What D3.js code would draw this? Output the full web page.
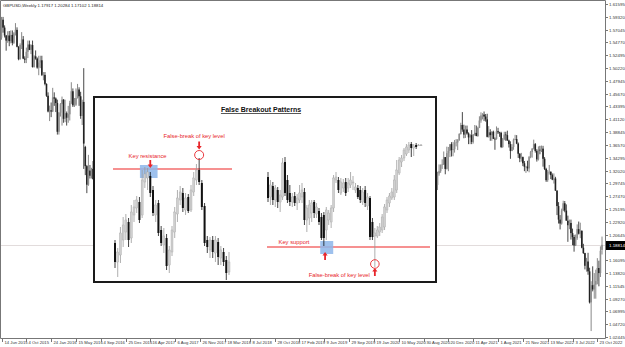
<!DOCTYPE html>
<html><head><meta charset="utf-8">
<script src="https://cdn.jsdelivr.net/npm/d3@7"></script>
<style>html,body{margin:0;padding:0;background:#fff;overflow:hidden}</style>
</head><body><svg id="c" width="625" height="347"></svg>
<script>
// ---------------- DATA ----------------
const symbolTitle = "GBPUSD,Weekly  1.17917 1.20284 1.17102 1.18814";
const lastPrice = 1.18814;
const priceTicks = [1.61595,1.59320,1.57045,1.54770,1.52495,1.50220,1.47945,1.45670,1.43395,1.41120,
  1.38845,1.36570,1.34295,1.32020,1.29745,1.27470,1.25195,1.22920,1.20645,1.18370,1.16095,1.13820,
  1.11545,1.09270,1.06995,1.04720,1.02445];
const dateLabels = ["14 Jun 2015","4 Oct 2015","24 Jan 2016","15 May 2016","4 Sep 2016","25 Dec 2016",
  "16 Apr 2017","6 Aug 2017","26 Nov 2017","18 Mar 2018","8 Jul 2018","28 Oct 2018","17 Feb 2019",
  "9 Jun 2019","29 Sep 2019","19 Jan 2020","10 May 2020","30 Aug 2020","20 Dec 2020","11 Apr 2021",
  "1 Aug 2021","21 Nov 2021","13 Mar 2022","3 Jul 2022","23 Oct 2022"];
const dateLabelWeeks = [0,16,32,48,64,80,96,112,128,144,160,176,192,208,224,240,256,272,288,304,320,336,352,368,384];
const totalWeeks = 387;

// weekly GBPUSD candles [open, high, low, close], visible part left of the inset
const earlyStartWeek = 0;
const gbpEarly = [
 [1.5560,1.5930,1.5525,1.5880],[1.5880,1.5930,1.5650,1.5740],[1.5740,1.5780,1.5565,1.5600],[1.5600,1.5610,1.5330,1.5510],
 [1.5510,1.5675,1.5470,1.5600],[1.5600,1.5680,1.5410,1.5500],[1.5500,1.5690,1.5460,1.5610],[1.5610,1.5690,1.5425,1.5470],
 [1.5470,1.5660,1.5450,1.5640],[1.5640,1.5820,1.5600,1.5700],[1.5700,1.5745,1.5390,1.5400],[1.5400,1.5410,1.5160,1.5180],
 [1.5180,1.5460,1.5170,1.5430],[1.5430,1.5660,1.5360,1.5530],[1.5530,1.5590,1.5180,1.5190],[1.5190,1.5230,1.5110,1.5170],
 [1.5170,1.5385,1.5110,1.5310],[1.5310,1.5510,1.5200,1.5440],[1.5440,1.5510,1.5340,1.5345],[1.5345,1.5445,1.5270,1.5430],
 [1.5430,1.5510,1.5030,1.5040],[1.5040,1.5250,1.5030,1.5230],[1.5230,1.5335,1.5170,1.5190],[1.5190,1.5210,1.5010,1.5030],
 [1.5030,1.5240,1.4895,1.5120],[1.5120,1.5240,1.5020,1.5160],[1.5160,1.5240,1.4880,1.4900],[1.4900,1.4950,1.4805,1.4900],
 [1.4900,1.4950,1.4715,1.4740],[1.4740,1.4750,1.4510,1.4530],[1.4530,1.4590,1.4235,1.4250],[1.4250,1.4355,1.4080,1.4270],
 [1.4270,1.4410,1.4150,1.4250],[1.4250,1.4670,1.4240,1.4500],[1.4500,1.4590,1.4350,1.4480],[1.4480,1.4500,1.4240,1.4400],
 [1.4400,1.4460,1.3840,1.3890],[1.3890,1.4240,1.3840,1.4230],[1.4230,1.4400,1.4160,1.4380],[1.4380,1.4515,1.4000,1.4460],
 [1.4460,1.4470,1.4050,1.4120],[1.4120,1.4460,1.4060,1.4220],[1.4220,1.4250,1.4000,1.4140],[1.4140,1.4350,1.4050,1.4200],
 [1.4200,1.4440,1.4090,1.4400],[1.4400,1.4770,1.4380,1.4610],[1.4610,1.4660,1.4330,1.4360],[1.4360,1.4490,1.4330,1.4370],
 [1.4370,1.4660,1.4350,1.4490],[1.4490,1.4740,1.4480,1.4640],[1.4640,1.4680,1.4350,1.4520],[1.4520,1.4600,1.4120,1.4170],
 [1.4170,1.4460,1.4010,1.4420],[1.4420,1.5020,1.3230,1.3680],[1.3620,1.3640,1.3120,1.3280],[1.3280,1.3300,1.2800,1.2950],
 [1.2950,1.3480,1.2930,1.3200],[1.3200,1.3300,1.3060,1.3110],[1.3110,1.3250,1.3060,1.3230],[1.3230,1.3370,1.3040,1.3050],
 [1.3050,1.3080,1.2880,1.2920]
];
// weekly GBPUSD candles, visible part right of the inset
const lateStartWeek = 278;
const gbpLate = [
 [1.3010,1.3080,1.2865,1.2910],[1.2910,1.3180,1.2860,1.3040],[1.3040,1.3070,1.2855,1.2945],[1.2945,1.3180,1.2855,1.3150],
 [1.3150,1.3310,1.3110,1.3190],[1.3190,1.3310,1.3160,1.3300],[1.3300,1.3400,1.3230,1.3310],[1.3310,1.3540,1.3300,1.3440],
 [1.3440,1.3440,1.3135,1.3230],[1.3230,1.3625,1.3220,1.3510],[1.3510,1.3620,1.3190,1.3550],[1.3550,1.3665,1.3440,1.3670],
 [1.3670,1.3705,1.3450,1.3565],[1.3565,1.3710,1.3455,1.3580],[1.3580,1.3745,1.3520,1.3690],[1.3690,1.3760,1.3630,1.3700],
 [1.3700,1.3760,1.3565,1.3740],[1.3740,1.3865,1.3730,1.3850],[1.3850,1.4050,1.3840,1.4010],[1.4010,1.4240,1.3890,1.3930],
 [1.3930,1.4015,1.3775,1.3840],[1.3840,1.4000,1.3780,1.3930],[1.3930,1.4000,1.3840,1.3860],[1.3860,1.3880,1.3670,1.3790],
 [1.3790,1.3850,1.3670,1.3830],[1.3830,1.3920,1.3670,1.3710],[1.3710,1.3850,1.3680,1.3840],[1.3840,1.4010,1.3820,1.3870],
 [1.3870,1.4000,1.3810,1.3815],[1.3815,1.3980,1.3800,1.3960],[1.3960,1.4165,1.3955,1.4090],[1.4090,1.4235,1.4050,1.4180],
 [1.4180,1.4220,1.4110,1.4195],[1.4195,1.4250,1.4080,1.4160],[1.4160,1.4205,1.4070,1.4110],[1.4110,1.4210,1.3790,1.3800],
 [1.3800,1.3990,1.3785,1.3880],[1.3880,1.3935,1.3730,1.3830],[1.3830,1.3900,1.3730,1.3890],[1.3890,1.3910,1.3760,1.3765],
 [1.3765,1.3790,1.3570,1.3760],[1.3760,1.3985,1.3750,1.3900],[1.3900,1.3960,1.3850,1.3880],[1.3880,1.3890,1.3800,1.3870],
 [1.3870,1.3890,1.3600,1.3620],[1.3620,1.3780,1.3605,1.3760],[1.3760,1.3890,1.3740,1.3840],[1.3840,1.3890,1.3730,1.3830],
 [1.3830,1.3910,1.3730,1.3735],[1.3735,1.3750,1.3610,1.3670],[1.3670,1.3720,1.3410,1.3550],[1.3550,1.3670,1.3545,1.3620],
 [1.3620,1.3770,1.3570,1.3750],[1.3750,1.3835,1.3740,1.3760],[1.3760,1.3830,1.3670,1.3680],[1.3680,1.3700,1.3425,1.3500],
 [1.3500,1.3510,1.3350,1.3415],[1.3415,1.3515,1.3360,1.3440],[1.3440,1.3450,1.3280,1.3330],[1.3330,1.3370,1.3190,1.3270],
 [1.3270,1.3285,1.3160,1.3270],[1.3270,1.3375,1.3190,1.3240],[1.3240,1.3460,1.3170,1.3440],[1.3440,1.3550,1.3420,1.3530],
 [1.3530,1.3600,1.3430,1.3590],[1.3590,1.3750,1.3575,1.3670],[1.3670,1.3690,1.3520,1.3550],[1.3550,1.3580,1.3360,1.3400],
 [1.3400,1.3630,1.3380,1.3570],[1.3570,1.3640,1.3490,1.3560],[1.3560,1.3645,1.3530,1.3590],[1.3590,1.3640,1.3270,1.3410],
 [1.3410,1.3440,1.3210,1.3230],[1.3230,1.3250,1.3000,1.3030],[1.3030,1.3210,1.3000,1.3180],[1.3180,1.3300,1.3130,1.3180],
 [1.3180,1.3185,1.3050,1.3120],[1.3120,1.3150,1.3030,1.3040],[1.3040,1.3150,1.2970,1.3060],[1.3060,1.3090,1.2840,1.2845],
 [1.2845,1.2850,1.2410,1.2570],[1.2570,1.2640,1.2260,1.2330],[1.2330,1.2410,1.2155,1.2260],[1.2260,1.2525,1.2240,1.2490],
 [1.2490,1.2665,1.2480,1.2620],[1.2620,1.2660,1.2460,1.2490],[1.2490,1.2600,1.2315,1.2310],[1.2310,1.2400,1.1935,1.2230],
 [1.2230,1.2330,1.2160,1.2270],[1.2270,1.2330,1.1975,1.2090],[1.2090,1.2170,1.1875,1.2020],[1.2020,1.2060,1.1760,1.1870],
 [1.1870,1.2065,1.1860,1.2000],[1.2000,1.2245,1.1970,1.2160],[1.2160,1.2295,1.2065,1.2080],[1.2080,1.2275,1.2000,1.2130],
 [1.2130,1.2140,1.1820,1.1830],[1.1830,1.1900,1.1720,1.1735],[1.1735,1.1740,1.1445,1.1510],[1.1510,1.1650,1.1405,1.1585],
 [1.1585,1.1740,1.1350,1.1410],[1.1410,1.1475,1.0840,1.0860],[1.0860,1.1235,1.0350,1.1165],[1.1165,1.1500,1.1055,1.1090],
 [1.1090,1.1380,1.0925,1.1175],[1.1175,1.1440,1.0925,1.1240],[1.1240,1.1645,1.1180,1.1470],[1.1470,1.1600,1.1145,1.1380],
 [1.1380,1.1855,1.1310,1.1775],[1.17917,1.20284,1.17102,1.18814]
];

// inset example chart: [open, high, low, close]
const insetTitle = "False Breakout Patterns";
const resistLevel = 1.212;
const supportLevel = 1.056;
const patternLeft = [
 [1.064,1.070,1.014,1.026],[1.026,1.054,0.996,1.046],[1.040,1.096,1.024,1.084],[1.070,1.116,1.056,1.100],
 [1.086,1.122,1.070,1.110],[1.106,1.114,1.056,1.070],[1.074,1.140,1.064,1.126],[1.120,1.150,1.106,1.136],
 [1.134,1.158,1.124,1.150],[1.146,1.156,1.104,1.110],[1.120,1.210,1.114,1.190],[1.186,1.216,1.174,1.202],
 [1.194,1.214,1.170,1.206],[1.198,1.206,1.156,1.164],[1.170,1.178,1.118,1.124],[1.120,1.150,1.106,1.140],
 [1.144,1.150,1.078,1.084],[1.090,1.098,1.058,1.064],[1.060,1.094,1.044,1.078],[1.074,1.082,1.010,1.018],
 [1.020,1.058,1.004,1.050],[1.046,1.098,1.038,1.090],[1.086,1.136,1.074,1.126],[1.122,1.170,1.106,1.154],
 [1.150,1.178,1.140,1.166],[1.164,1.174,1.126,1.134],[1.130,1.164,1.120,1.154],[1.156,1.162,1.124,1.128],
 [1.130,1.180,1.126,1.170],[1.166,1.206,1.158,1.194],[1.190,1.222,1.180,1.210],[1.210,1.234,1.180,1.186],
 [1.184,1.190,1.130,1.136],[1.138,1.144,1.058,1.064],[1.070,1.078,1.044,1.056],[1.050,1.076,1.034,1.070],
 [1.070,1.078,1.034,1.046],[1.044,1.078,1.026,1.070],[1.066,1.074,1.020,1.036],[1.034,1.058,1.020,1.050],
 [1.046,1.054,1.018,1.026],[1.030,1.038,0.990,1.004],[1.006,1.046,1.000,1.026]
];
const patternRight = [
 [1.196,1.206,1.146,1.154],[1.156,1.190,1.140,1.180],[1.178,1.186,1.140,1.150],[1.150,1.180,1.136,1.174],
 [1.170,1.176,1.134,1.146],[1.146,1.170,1.126,1.160],[1.156,1.234,1.150,1.224],[1.226,1.236,1.158,1.164],
 [1.190,1.200,1.144,1.150],[1.164,1.180,1.138,1.146],[1.146,1.164,1.136,1.156],[1.158,1.166,1.138,1.144],
 [1.144,1.162,1.130,1.154],[1.150,1.180,1.144,1.164],[1.156,1.184,1.144,1.170],[1.166,1.174,1.100,1.110],
 [1.110,1.140,1.086,1.134],[1.114,1.150,1.100,1.140],[1.124,1.150,1.106,1.144],[1.146,1.150,1.114,1.124],
 [1.122,1.144,1.114,1.136],[1.128,1.134,1.100,1.106],[1.116,1.124,1.070,1.074],[1.120,1.126,1.058,1.074],
 [1.090,1.136,1.070,1.130],[1.110,1.130,1.100,1.124],[1.106,1.140,1.094,1.134],[1.134,1.200,1.126,1.194],
 [1.190,1.206,1.184,1.196],[1.190,1.196,1.164,1.170],[1.164,1.194,1.160,1.186],[1.174,1.192,1.166,1.184],
 [1.186,1.194,1.158,1.164],[1.174,1.194,1.166,1.184],[1.180,1.206,1.174,1.190],[1.184,1.198,1.170,1.186],
 [1.170,1.184,1.164,1.176],[1.174,1.180,1.152,1.156],[1.170,1.178,1.144,1.150],[1.146,1.174,1.140,1.166],
 [1.170,1.178,1.136,1.144],[1.138,1.164,1.130,1.156],[1.154,1.158,1.070,1.076],[1.106,1.114,1.070,1.076],
 [1.078,1.094,1.016,1.084],[1.078,1.098,1.074,1.090],[1.086,1.104,1.078,1.096],[1.090,1.122,1.084,1.116],
 [1.096,1.142,1.090,1.136],[1.130,1.156,1.124,1.150],[1.144,1.164,1.136,1.158],[1.154,1.174,1.150,1.166],
 [1.156,1.200,1.150,1.190],[1.170,1.230,1.164,1.210],[1.204,1.236,1.200,1.230],[1.226,1.240,1.216,1.234],
 [1.234,1.254,1.228,1.250],[1.242,1.262,1.238,1.256],[1.250,1.266,1.244,1.260],[1.262,1.266,1.236,1.254],
 [1.254,1.262,1.238,1.258],[1.260,1.264,1.252,1.256],[1.260,1.262,1.258,1.260],[1.260,1.262,1.258,1.260]
];
const labelKeyRes = "Key resistance";
const labelKeySup = "Key support";
const labelFalse = "False-break of key level";

// ---------------- DRAW ----------------
const svg = d3.select("#c");
const W = 625, H = 347;
const plotR = 605, plotB = 338;
svg.append("rect").attr("width", W).attr("height", H).attr("fill", "#fff");

const xBg = d3.scaleLinear().domain([0, totalWeeks]).range([1.5, 602]);
const yBg = d3.scaleLinear().domain([priceTicks[priceTicks.length-1], priceTicks[0]]).range([337, 4]);

// price line
svg.append("line").attr("x1", 1).attr("x2", plotR).attr("y1", Math.round(yBg(lastPrice))+0.5).attr("y2", Math.round(yBg(lastPrice))+0.5)
  .attr("stroke", "#e2dcdc").attr("stroke-width", 1);

function drawBg(data, start) {
  const g = svg.append("g");
  data.forEach((d, k) => {
    const [o,h,l,c] = d;
    const x = xBg(start + k);
    const bull = c >= o;
    g.append("line").attr("x1", x).attr("x2", x).attr("y1", yBg(h)).attr("y2", yBg(l))
      .attr("stroke", bull ? "#7a7a7a" : "#333").attr("stroke-width", 0.9);
    const y0 = yBg(Math.max(o,c)), y1 = yBg(Math.min(o,c));
    g.append("rect").attr("x", x - 0.8).attr("width", 1.6).attr("y", y0).attr("height", Math.max(0.6, y1 - y0))
      .attr("fill", bull ? "#8e8e8e" : "#222");
  });
}
drawBg(gbpEarly, earlyStartWeek);
drawBg(gbpLate, lateStartWeek);

// frame
const frame = svg.append("g").attr("stroke", "#777").attr("stroke-width", 1).attr("fill", "none");
frame.append("path").attr("d", `M0.5,${plotB+0.5}V0.5H${plotR+0.5}V${plotB+0.5}H0.5`);

// right axis
const fontAx = "'Liberation Sans', Arial, sans-serif";
const ra = svg.append("g");
const yl = Math.round(yBg(lastPrice));
priceTicks.forEach(p => {
  const y = Math.round(yBg(p)) + 0.5;
  ra.append("line").attr("x1", plotR).attr("x2", plotR + 3).attr("y1", y).attr("y2", y).attr("stroke", "#777");
  if (Math.abs(y - yl) < 6) return; // label hidden under the current-price box
  ra.append("text").attr("x", plotR + 4).attr("y", y).attr("dy", "0.35em").attr("font-family", fontAx)
    .attr("font-size", 4.4).attr("fill", "#333").text(p.toFixed(5));
});
// current price label
ra.append("rect").attr("x", plotR + 1).attr("y", yl - 4).attr("width", W - plotR - 1).attr("height", 9).attr("fill", "#000");
ra.append("text").attr("x", plotR + 4).attr("y", yl + 0.5).attr("dy", "0.35em").attr("font-family", fontAx)
  .attr("font-size", 4.4).attr("fill", "#fff").text(lastPrice.toFixed(5));

// bottom axis
const ba = svg.append("g");
dateLabels.forEach((t, k) => {
  const x = Math.round(xBg(dateLabelWeeks[k])) + 0.5;
  ba.append("line").attr("x1", x).attr("x2", x).attr("y1", plotB).attr("y2", plotB + 4).attr("stroke", "#777");
  ba.append("text").attr("x", x + 2).attr("y", plotB + 6).attr("font-family", fontAx)
    .attr("font-size", 4.2).attr("fill", "#333").text(t);
});

// header
svg.append("text").attr("x", 3).attr("y", 7).attr("font-family", fontAx).attr("font-size", 4.3)
  .attr("fill", "#222").text(symbolTitle);

// ---------------- INSET ----------------
const box = {x: 94, y: 97, w: 342, h: 185};
svg.append("rect").attr("x", box.x).attr("y", box.y).attr("width", box.w).attr("height", box.h)
  .attr("fill", "#fff").attr("stroke", "#1a1a1a").attr("stroke-width", 2);

svg.append("text").attr("x", 261).attr("y", 112).attr("text-anchor", "middle")
  .attr("font-family", "'Liberation Sans', Arial, sans-serif").attr("font-weight", "bold").attr("font-size", 7)
  .attr("text-decoration", "underline").attr("fill", "#111").text(insetTitle);

const yIn = d3.scaleLinear().domain([0.99, 1.264]).range([280, 143]);
const xL = d3.scaleLinear().domain([0, patternLeft.length - 1]).range([115, 229]);
const xR = d3.scaleLinear().domain([0, patternRight.length - 1]).range([268, 421]);

const red = "#e8262b";
const lineRed = "#f36d6d";
// levels
svg.append("line").attr("x1", 113).attr("x2", 232).attr("y1", yIn(resistLevel)).attr("y2", yIn(resistLevel))
  .attr("stroke", lineRed).attr("stroke-width", 1.4);
svg.append("line").attr("x1", 267).attr("x2", 430).attr("y1", yIn(supportLevel)).attr("y2", yIn(supportLevel))
  .attr("stroke", lineRed).attr("stroke-width", 1.4);

// blue zones
svg.append("rect").attr("x", xL(9) + 0.5).attr("width", xL(15.5) - xL(9)).attr("y", yIn(resistLevel) - 4)
  .attr("height", 13).attr("fill", "#8db6ea").attr("opacity", 0.85);
svg.append("rect").attr("x", xR(21.5)).attr("width", 13).attr("y", yIn(supportLevel) - 6)
  .attr("height", 13).attr("fill", "#8db6ea").attr("opacity", 0.85);

function drawInset(data, xs) {
  const g = svg.append("g");
  data.forEach((d, k) => {
    const [o,h,l,c] = d;
    const x = xs(k);
    const bull = c >= o;
    g.append("line").attr("x1", x).attr("x2", x).attr("y1", yIn(h)).attr("y2", yIn(l))
      .attr("stroke", bull ? "#9a9a9a" : "#111").attr("stroke-width", 0.8);
    const y0 = yIn(Math.max(o,c)), y1 = yIn(Math.min(o,c));
    g.append("rect").attr("x", x - 1).attr("width", 2).attr("y", y0).attr("height", Math.max(0.8, y1 - y0))
      .attr("fill", bull ? "#cfcfcf" : "#111").attr("stroke", bull ? "#a8a8a8" : "none").attr("stroke-width", 0.4);
  });
}
drawInset(patternLeft, xL);
drawInset(patternRight, xR);

// arrows
function arrow(x, tipY, dir) { // dir=1 pointing down, -1 pointing up
  const len = 8, head = 3.5, hw = 2.6, sw = 0.9;
  const baseY = tipY - dir * len, neckY = tipY - dir * head;
  const p = `M${x - sw},${baseY}L${x + sw},${baseY}L${x + sw},${neckY}L${x + hw},${neckY}L${x},${tipY}L${x - hw},${neckY}L${x - sw},${neckY}Z`;
  svg.append("path").attr("d", p).attr("fill", red);
}
const fontAnn = "'Liberation Sans', Arial, sans-serif";
// left annotations
svg.append("text").attr("x", xL(12)).attr("y", 158).attr("text-anchor", "middle").attr("font-family", fontAnn)
  .attr("font-size", 5.8).attr("fill", red).text(labelKeyRes);
arrow(xL(13), yIn(resistLevel) - 1, 1);
const spikeL = 31;
svg.append("circle").attr("cx", xL(spikeL)).attr("cy", yIn(patternLeft[spikeL][1]) - 3).attr("r", 4.5)
  .attr("fill", "none").attr("stroke", red).attr("stroke-width", 0.9);
arrow(xL(spikeL), yIn(patternLeft[spikeL][1]) - 8.5, 1);
svg.append("text").attr("x", xL(spikeL) - 5).attr("y", 138).attr("text-anchor", "middle").attr("font-family", fontAnn)
  .attr("font-size", 5.8).attr("fill", red).text(labelFalse);

// right annotations
svg.append("text").attr("x", 294).attr("y", yIn(supportLevel) - 3).attr("text-anchor", "middle").attr("font-family", fontAnn)
  .attr("font-size", 5.8).attr("fill", red).text(labelKeySup);
arrow(xR(23.5), yIn(supportLevel) + 5, -1);
const spikeR = 44;
svg.append("circle").attr("cx", xR(spikeR)).attr("cy", yIn(patternRight[spikeR][2]) - 3).attr("r", 4.3)
  .attr("fill", "none").attr("stroke", red).attr("stroke-width", 0.9);
arrow(xR(spikeR), yIn(patternRight[spikeR][2]) + 1, -1);
svg.append("text").attr("x", xR(spikeR) - 5).attr("y", 276.5).attr("text-anchor", "end").attr("font-family", fontAnn)
  .attr("font-size", 5.8).attr("fill", red).text(labelFalse);
</script>
</body></html>
